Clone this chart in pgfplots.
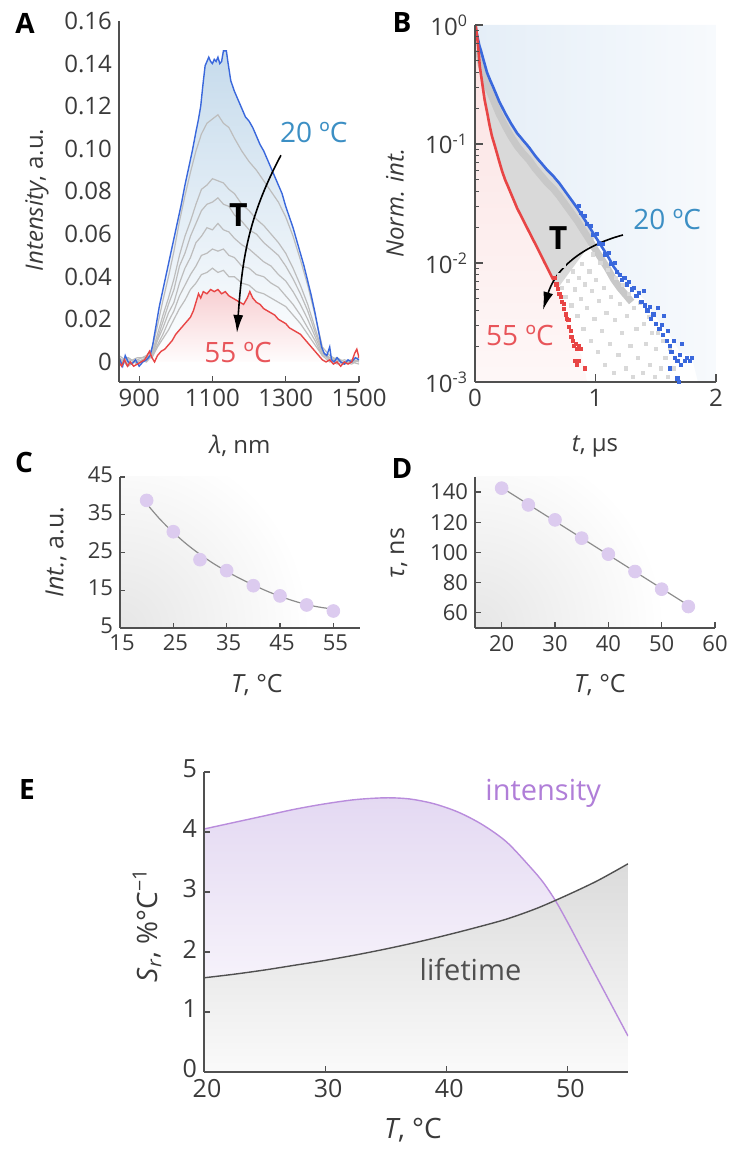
\documentclass[border=0pt]{standalone}
\usepackage{fontspec}
\setmainfont{Open Sans}
\usepackage{pgfplots}
\pgfplotsset{compat=1.18}
\usepackage{pgfplotstable}
\usetikzlibrary{arrows.meta}

\definecolor{AxisGray}{HTML}{505050}
\definecolor{TickGray}{HTML}{3A3A3A}
\definecolor{BlueLine}{HTML}{3A68DC}
\definecolor{RedLine}{HTML}{E84545}
\definecolor{GrayLine}{HTML}{BDBDBD}
\definecolor{BlueLabel}{HTML}{3C8FC4}
\definecolor{RedLabel}{HTML}{E8555A}
\definecolor{BlueFill}{HTML}{C6DBEC}
\definecolor{PinkFill}{HTML}{F8CFD2}
\definecolor{BlueBg}{HTML}{E0EBF6}
\definecolor{PinkBg}{HTML}{FBE1E1}
\definecolor{BandLight}{HTML}{D9D9D9}
\definecolor{BandDark}{HTML}{C8C8C8}
\definecolor{Lav}{HTML}{DCCBEF}
\definecolor{FitGray}{HTML}{8C8C8C}
\definecolor{PurpleLine}{HTML}{B98CDC}
\definecolor{PurpleText}{HTML}{B07ED8}
\definecolor{PurpleFill}{HTML}{E4D9F2}
\definecolor{LifeLine}{HTML}{505050}
\definecolor{BgGray}{HTML}{E6E6E6}

\newcommand{\fs}[1]{\fontsize{#1}{#1}\selectfont}

\pgfplotsset{
  panel/.style={
    scale only axis, anchor=south west,
    axis lines=left,
    axis line style={-, draw=AxisGray, line width=0.9pt},
    x axis line style={-}, y axis line style={-},
    tick align=inside,
    major tick length=3pt, minor tick length=1.8pt,
    every tick/.style={AxisGray, line width=0.6pt},
    tick label style={text=TickGray},
    /pgf/number format/assume math mode=true,
    /pgf/number format/1000 sep={},
    axis on top,
  },
}

% panel A spectra
\pgfplotstableread{
lam g1 g2 g3 g4 g5 g6
845 0.002 -0.001 0.003 0.000 0.002 -0.001
870 -0.001 0.002 0.000 0.002 -0.002 0.001
895 0.001 -0.001 0.002 -0.001 0.001 0.000
920 0.003 0.001 0.002 0.002 0.000 0.002
935 0.006 0.004 0.004 0.003 0.003 0.002
950 0.017 0.013 0.011 0.010 0.008 0.007
965 0.029 0.022 0.019 0.016 0.013 0.011
980 0.040 0.030 0.027 0.023 0.019 0.015
995 0.052 0.039 0.034 0.028 0.024 0.020
1010 0.066 0.050 0.045 0.037 0.031 0.025
1025 0.078 0.059 0.051 0.044 0.036 0.029
1040 0.089 0.066 0.059 0.049 0.041 0.034
1055 0.099 0.074 0.065 0.056 0.045 0.037
1070 0.107 0.081 0.071 0.059 0.050 0.041
1085 0.112 0.083 0.074 0.063 0.051 0.042
1100 0.114 0.086 0.075 0.062 0.053 0.044
1115 0.116 0.085 0.077 0.065 0.052 0.042
1130 0.112 0.084 0.074 0.062 0.053 0.043
1145 0.110 0.081 0.073 0.061 0.050 0.040
1160 0.105 0.079 0.069 0.058 0.049 0.040
1180 0.099 0.074 0.066 0.055 0.045 0.037
1200 0.094 0.071 0.062 0.053 0.044 0.036
1220 0.090 0.067 0.060 0.050 0.041 0.033
1240 0.085 0.064 0.056 0.047 0.040 0.032
1260 0.080 0.060 0.053 0.045 0.037 0.030
1280 0.075 0.056 0.050 0.041 0.035 0.028
1300 0.068 0.051 0.045 0.038 0.031 0.026
1320 0.059 0.044 0.039 0.033 0.027 0.022
1340 0.048 0.036 0.032 0.027 0.022 0.018
1360 0.036 0.027 0.024 0.020 0.016 0.013
1380 0.022 0.016 0.014 0.012 0.010 0.008
1400 0.007 0.005 0.005 0.004 0.003 0.003
1420 0.003 0.001 0.002 0.001 0.002 0.000
1440 0.001 0.002 0.000 0.001 -0.001 0.001
1460 -0.001 0.000 0.001 -0.001 0.000 -0.001
1480 0.001 -0.001 0.000 0.001 0.001 0.000
1500 0.002 0.001 -0.001 0.000 0.002 0.001
}\grayA

\pgfplotstableread{
lam v
845 0.002
855 -0.002
862 0.003
870 0.000
880 -0.001
890 0.001
900 -0.002
910 0.000
920 0.001
930 0.003
937 0.008
945 0.016
955 0.026
965 0.034
975 0.042
985 0.050
995 0.058
1005 0.066
1015 0.074
1025 0.083
1035 0.091
1045 0.099
1055 0.108
1062 0.114
1068 0.120
1074 0.130
1080 0.139
1085 0.141
1090 0.143
1095 0.141
1100 0.140
1105 0.142
1110 0.141
1115 0.143
1120 0.140
1125 0.141
1130 0.146
1138 0.146
1142 0.141
1150 0.132
1160 0.127
1170 0.123
1180 0.119
1190 0.115
1200 0.113
1210 0.110
1220 0.106
1230 0.102
1240 0.099
1250 0.095
1260 0.091
1270 0.087
1280 0.083
1290 0.079
1300 0.073
1310 0.068
1320 0.063
1330 0.057
1340 0.051
1350 0.045
1360 0.038
1370 0.031
1380 0.023
1390 0.014
1398 0.007
1405 0.004
1412 0.003
1420 0.007
1425 0.001
1432 0.000
1440 0.002
1450 0.000
1460 -0.001
1470 0.001
1480 0.000
1490 0.002
1500 0.001
}\blueA

\pgfplotstableread{
lam v
845 0.000
852 -0.002
860 0.001
868 -0.002
876 0.000
885 -0.002
895 -0.001
905 0.000
915 0.001
922 0.003
928 0.005
935 0.002
942 0.000
950 0.003
960 0.005
970 0.006
980 0.008
990 0.010
1000 0.013
1010 0.015
1020 0.017
1030 0.019
1040 0.021
1048 0.024
1055 0.028
1062 0.032
1068 0.030
1075 0.033
1085 0.032
1095 0.034
1105 0.033
1115 0.034
1125 0.032
1135 0.033
1145 0.031
1155 0.030
1165 0.029
1175 0.028
1185 0.027
1195 0.030
1202 0.033
1210 0.030
1220 0.028
1230 0.027
1240 0.025
1250 0.024
1260 0.023
1270 0.022
1280 0.020
1290 0.019
1300 0.018
1310 0.016
1320 0.015
1330 0.014
1340 0.013
1350 0.011
1360 0.009
1370 0.007
1380 0.005
1390 0.003
1400 0.001
1410 0.000
1420 0.001
1430 -0.001
1440 0.000
1450 -0.002
1460 0.000
1470 -0.001
1480 0.000
1488 0.004
1494 0.006
1500 0.002
}\redA

\begin{document}
\begin{tikzpicture}
\useasboundingbox (0,0) rectangle (366pt,574.5pt);

% ---------------- A ----------------
\begin{axis}[panel, at={(59.5pt,383.5pt)}, width=120pt, height=180.5pt,
  xmin=845, xmax=1500, ymin=-0.0094, ymax=0.16,
  xtick={900,1100,1300,1500},
  ytick={0,0.02,0.04,0.06,0.08,0.10,0.12,0.14,0.16},
  yticklabels={0,0.02,0.04,0.06,0.08,0.10,0.12,0.14,0.16},
  ytick style={draw=none},
  tick label style={font=\fs{12}}]
  \addplot[draw=none, top color=BlueFill, middle color=white, bottom color=white] table[x=lam,y=v]{\blueA} \closedcycle;
  \addplot[draw=none, top color=PinkFill, bottom color=white] table[x=lam,y=v]{\redA} \closedcycle;
  \addplot[GrayLine, line width=0.6pt] table[x=lam,y=g6]{\grayA};
  \addplot[GrayLine, line width=0.6pt] table[x=lam,y=g5]{\grayA};
  \addplot[GrayLine, line width=0.6pt] table[x=lam,y=g4]{\grayA};
  \addplot[GrayLine, line width=0.6pt] table[x=lam,y=g3]{\grayA};
  \addplot[GrayLine, line width=0.6pt] table[x=lam,y=g2]{\grayA};
  \addplot[GrayLine, line width=0.6pt] table[x=lam,y=g1]{\grayA};
  \addplot[BlueLine, line width=0.7pt] table[x=lam,y=v]{\blueA};
  \addplot[RedLine, line width=0.7pt] table[x=lam,y=v]{\redA};
  \node[text=BlueLabel, font=\fs{14}] at (axis cs:1377,0.1077) {20 ºC};
  \node[font=\bfseries\fs{16}] at (axis cs:1171,0.069) {T};
  \node[text=RedLabel, font=\fs{14}] at (axis cs:1170,0.0045) {55 ºC};
  \draw[-{Latex[length=9pt,width=5pt]}, line width=0.8pt] (axis cs:1287,0.097) to[out=-118,in=86] (axis cs:1167,0.0136);
\end{axis}

% ---------------- B ----------------
\begin{axis}[panel, at={(237.5pt,383.5pt)}, width=120.5pt, height=178.5pt,
  ymode=log, xmin=0, xmax=2, ymin=0.001, ymax=1,
  xtick={0,1,2},
  ytick={0.001,0.01,0.1,1},
  yticklabels={10\textsuperscript{-3},10\textsuperscript{-2},10\textsuperscript{-1},10\textsuperscript{0}},
  major tick length=4pt, minor tick length=2pt,
  tick label style={font=\fs{12}}]
  % blue background region (above the 20 C decay)
  \addplot[draw=none, left color=BlueBg!85, right color=BlueBg!25] coordinates {
    (0,1)(0.005,0.95)(0.02,0.80)(0.035,0.68)(0.05,0.603)(0.075,0.49)(0.10,0.398)(0.15,0.302)(0.20,0.229)(0.25,0.182)(0.30,0.148)(0.35,0.123)(0.40,0.107)(0.45,0.0933)(0.50,0.0794)(0.55,0.0692)(0.60,0.0603)(0.65,0.0537)(0.70,0.0468)(0.75,0.0398)(0.80,0.0339)(0.85,0.0288)(0.90,0.0240)(0.95,0.0200)(1.00,0.0166)(1.05,0.0138)(1.10,0.0115)(1.15,0.00933)(1.20,0.00794)(1.30,0.0062)(1.40,0.0050)(1.50,0.0035)(1.60,0.0026)(1.70,0.0018)(1.80,0.0016)(1.85,0.001)(2,0.001)(2,1)
  } -- cycle;
  % pink background region (below the 55 C decay)
  \addplot[draw=none, top color=PinkBg, bottom color=PinkBg!25] coordinates {
    (0,1)(0.005,1.0)(0.01,0.93)(0.02,0.76)(0.03,0.59)(0.04,0.447)(0.05,0.380)(0.06,0.324)(0.07,0.275)(0.08,0.234)(0.10,0.186)(0.12,0.145)(0.14,0.117)(0.16,0.100)(0.18,0.085)(0.20,0.072)(0.225,0.059)(0.25,0.050)(0.275,0.0437)(0.30,0.0380)(0.325,0.0331)(0.35,0.0288)(0.375,0.0257)(0.40,0.0229)(0.425,0.0204)(0.45,0.0182)(0.475,0.0162)(0.50,0.0145)(0.525,0.0129)(0.55,0.0115)(0.575,0.0102)(0.60,0.0091)(0.625,0.0081)(0.65,0.0072)(0.70,0.0055)(0.76,0.0034)(0.82,0.0020)(0.88,0.0017)(0.91,0.0013)(0.93,0.001)(0,0.001)
  } -- cycle;
  % gray band of intermediate temperatures
  \addplot[draw=none, fill=BandLight] coordinates {
    (0.005,0.95)(0.02,0.80)(0.035,0.68)(0.05,0.603)(0.075,0.49)(0.10,0.398)(0.125,0.345)(0.15,0.302)(0.175,0.263)(0.20,0.229)(0.225,0.204)(0.25,0.182)(0.275,0.164)(0.30,0.148)(0.325,0.135)(0.35,0.123)(0.375,0.115)(0.40,0.107)(0.425,0.100)(0.45,0.0933)(0.475,0.086)(0.50,0.0794)(0.525,0.074)(0.55,0.0692)(0.575,0.0646)(0.60,0.0603)(0.625,0.0569)(0.65,0.0537)(0.675,0.0501)(0.70,0.0468)(0.75,0.0398)(0.80,0.0339)(0.85,0.0288)(0.90,0.0240)(0.95,0.0200)(1.00,0.0166)
    (0.68,0.0060)
    (0.65,0.0072)(0.625,0.0081)(0.60,0.0091)(0.575,0.0102)(0.55,0.0115)(0.525,0.0129)(0.50,0.0145)(0.475,0.0162)(0.45,0.0182)(0.425,0.0204)(0.40,0.0229)(0.375,0.0257)(0.35,0.0288)(0.325,0.0331)(0.30,0.0380)(0.275,0.0437)(0.25,0.050)(0.225,0.059)(0.20,0.072)(0.18,0.085)(0.16,0.100)(0.14,0.117)(0.12,0.145)(0.10,0.186)(0.08,0.234)(0.07,0.275)(0.06,0.324)(0.05,0.380)(0.04,0.447)(0.03,0.59)(0.02,0.76)(0.01,0.93)(0.005,1.0)
  } -- cycle;
  \addplot[BandDark, line width=3.5pt, line join=round] coordinates {
    (0.03,0.62)(0.05,0.47)(0.10,0.31)(0.15,0.236)(0.20,0.179)(0.25,0.142)(0.30,0.115)(0.35,0.096)(0.40,0.083)(0.45,0.073)(0.50,0.062)(0.55,0.054)(0.60,0.047)(0.65,0.042)(0.70,0.0365)(0.75,0.031)(0.80,0.0264)(0.85,0.0225)(0.90,0.0187)(0.95,0.0156)(1.00,0.0129)(1.05,0.0108)(1.10,0.0090)(1.15,0.0073)(1.20,0.0062)(1.25,0.0054)(1.30,0.0047)
  };
  \addplot[only marks, mark=square*, mark size=0.8pt, color=BandLight] coordinates {
    (0.70,0.0080)(0.72,0.0062)(0.74,0.0095)(0.75,0.0052)(0.77,0.0071)(0.78,0.0110)(0.80,0.0044)(0.81,0.0085)(0.83,0.0060)(0.84,0.0125)(0.85,0.0036)(0.86,0.0075)(0.88,0.0050)(0.89,0.0098)(0.90,0.0028)(0.91,0.0066)(0.92,0.0140)(0.93,0.0042)(0.95,0.0085)(0.96,0.0022)(0.97,0.0058)(0.98,0.0118)(0.99,0.0034)(1.00,0.0072)(1.02,0.0018)(1.03,0.0048)(1.04,0.0100)(1.05,0.0027)(1.07,0.0062)(1.08,0.0014)(1.09,0.0038)(1.10,0.0088)(1.12,0.0021)(1.13,0.0052)(1.15,0.0012)(1.16,0.0033)(1.17,0.0075)(1.19,0.0017)(1.20,0.0045)(1.22,0.0026)(1.23,0.0065)(1.25,0.0013)(1.26,0.0036)(1.28,0.0055)(1.29,0.0020)(1.31,0.0011)(1.32,0.0042)(1.34,0.0028)(1.35,0.0016)(1.37,0.0046)(1.39,0.0012)(1.40,0.0031)(1.42,0.0021)(1.44,0.0035)(1.45,0.0014)(1.47,0.0026)(1.49,0.0011)(1.50,0.0019)(1.52,0.0026)(1.54,0.0013)(1.56,0.0022)(1.58,0.0016)(1.60,0.0011)(1.62,0.0019)(1.65,0.0013)
  };
  % 20 C decay
  \addplot[BlueLine, line width=1.3pt] coordinates {
    (0.005,0.95)(0.02,0.80)(0.035,0.68)(0.05,0.603)(0.075,0.49)(0.10,0.398)(0.125,0.345)(0.15,0.302)(0.175,0.263)(0.20,0.229)(0.225,0.204)(0.25,0.182)(0.275,0.164)(0.30,0.148)(0.325,0.135)(0.35,0.123)(0.375,0.115)(0.40,0.107)(0.425,0.100)(0.45,0.0933)(0.475,0.086)(0.50,0.0794)(0.525,0.074)(0.55,0.0692)(0.575,0.0646)(0.60,0.0603)(0.625,0.0569)(0.65,0.0537)(0.675,0.0501)(0.70,0.0468)(0.75,0.0398)(0.80,0.0339)(0.85,0.0288)(0.90,0.0240)(0.95,0.0200)(1.00,0.0166)(1.05,0.0138)(1.10,0.0115)(1.15,0.00933)(1.20,0.00794)
  };
  \addplot[only marks, mark=square*, mark size=0.8pt, color=BlueLine] coordinates {
    (0.86,0.0300)(0.88,0.0262)(0.91,0.0250)(0.93,0.0213)(0.96,0.0205)(0.98,0.0172)(1.01,0.0175)(1.03,0.0146)(1.06,0.0145)(1.08,0.0118)(1.11,0.0121)(1.13,0.0098)(1.16,0.0100)(1.18,0.0084)
    (1.20,0.0080)(1.22,0.0072)(1.24,0.0075)(1.26,0.0066)(1.28,0.0069)(1.30,0.0060)(1.32,0.0062)(1.34,0.0053)(1.36,0.0056)(1.38,0.0047)(1.40,0.0058)(1.41,0.0044)(1.43,0.0040)(1.45,0.0043)(1.46,0.0034)(1.48,0.0037)(1.50,0.0031)(1.52,0.0042)(1.53,0.0028)(1.55,0.0030)(1.56,0.0025)(1.57,0.0036)(1.59,0.0022)(1.60,0.0027)(1.62,0.0020)(1.63,0.0018)(1.65,0.0022)(1.66,0.0016)(1.68,0.0015)(1.70,0.0017)(1.71,0.0014)(1.72,0.0021)(1.74,0.0015)(1.76,0.0016)(1.78,0.0015)(1.80,0.0016)(1.62,0.0013)(1.68,0.00107)(1.69,0.0010)
  };
  % 55 C decay
  \addplot[RedLine, line width=1.3pt] coordinates {
    (0.005,1.0)(0.01,0.93)(0.02,0.76)(0.03,0.59)(0.04,0.447)(0.05,0.380)(0.06,0.324)(0.07,0.275)(0.08,0.234)(0.10,0.186)(0.12,0.145)(0.14,0.117)(0.16,0.100)(0.18,0.085)(0.20,0.072)(0.225,0.059)(0.25,0.050)(0.275,0.0437)(0.30,0.0380)(0.325,0.0331)(0.35,0.0288)(0.375,0.0257)(0.40,0.0229)(0.425,0.0204)(0.45,0.0182)(0.475,0.0162)(0.50,0.0145)(0.525,0.0129)(0.55,0.0115)(0.575,0.0102)(0.60,0.0091)(0.625,0.0081)(0.65,0.0072)
  };
  \addplot[only marks, mark=square*, mark size=0.8pt, color=RedLine] coordinates {
    (0.66,0.0075)(0.675,0.0066)(0.69,0.0061)(0.70,0.0055)(0.715,0.0052)(0.72,0.0047)(0.735,0.0045)(0.74,0.0041)(0.755,0.0037)(0.76,0.0034)(0.775,0.0033)(0.78,0.0029)(0.795,0.0027)(0.80,0.0024)(0.815,0.0022)(0.82,0.0020)(0.835,0.0021)(0.85,0.0019)(0.865,0.0020)(0.88,0.0019)(0.83,0.0015)(0.845,0.0014)(0.86,0.0015)(0.91,0.0013)
  };
  \node[text=BlueLabel, font=\fs{14}] at (axis cs:1.595,0.0234) {20 ºC};
  \node[font=\bfseries\fs{16}] at (axis cs:0.69,0.0162) {T};
  \node[text=RedLabel, font=\fs{14}] at (axis cs:0.373,0.00245) {55 ºC};
  \draw[-{Latex[length=9pt,width=5pt]}, line width=0.8pt] (axis cs:1.228,0.0172) to[out=195,in=73] (axis cs:0.564,0.00403);
\end{axis}

% ---------------- C ----------------
\begin{axis}[panel, at={(60pt,260.5pt)}, width=120pt, height=75.5pt,
  xmin=15, xmax=60, ymin=5, ymax=45,
  xtick={15,25,35,45,55}, ytick={5,15,25,35,45},
  major tick length=2.5pt,
  tick label style={font=\fs{11}},
  yticklabel style={yshift=1pt},
  xticklabel style={xshift=1pt}]
  \shade[inner color=BgGray, outer color=white] (axis cs:15,5) circle[radius=95pt];
  \addplot[only marks, mark=*, mark size=3.2pt, color=Lav, mark options={draw=Lav, fill=Lav}] coordinates {
    (20,38.8)(25,30.5)(30,23.1)(35,20.2)(40,16.2)(45,13.5)(50,11.1)(55,9.5)
  };
  \addplot[FitGray, line width=0.6pt, smooth] coordinates {
    (20,37.9)(22.5,33.8)(25,30.3)(27.5,27.2)(30,24.5)(32.5,22.1)(35,20.0)(37.5,18.1)(40,16.4)(42.5,14.8)(45,13.4)(47.5,12.2)(50,11.2)(52.5,10.5)(55,10.0)
  };
\end{axis}

% ---------------- D ----------------
\begin{axis}[panel, at={(237.5pt,260.5pt)}, width=120pt, height=75.5pt,
  xmin=15, xmax=60, ymin=50, ymax=150,
  xtick={20,30,40,50,60}, ytick={60,80,100,120,140},
  tick label style={font=\fs{11}}]
  \shade[inner color=BgGray, outer color=white] (axis cs:15,50) circle[radius=95pt];
  \addplot[only marks, mark=*, mark size=3.2pt, color=Lav, mark options={draw=Lav, fill=Lav}] coordinates {
    (20,142.6)(25,131.5)(30,121.6)(35,109.5)(40,98.9)(45,87.4)(50,75.7)(55,64.2)
  };
  \addplot[FitGray, line width=0.6pt] coordinates {(20,143)(55,65)};
\end{axis}

% ---------------- E ----------------
\begin{axis}[panel, at={(102pt,38.5pt)}, width=212pt, height=150pt,
  xmin=20, xmax=55, ymin=0, ymax=5,
  xtick={20,30,40,50}, ytick={0,1,2,3,4,5},
  tick label style={font=\fs{12.5}},
  yticklabel style={yshift=1.5pt},
  xticklabel style={xshift=1.5pt}]
  \addplot[draw=none, smooth, top color=PurpleFill, bottom color=white] coordinates {
    (20,4.05)(22.5,4.16)(25,4.27)(27.5,4.38)(30,4.47)(32.5,4.54)(35,4.57)(37,4.55)(39,4.47)(41,4.33)(43,4.12)(45,3.83)(47,3.40)(48,3.16)(49,2.86)(50,2.50)(51,2.12)(52,1.74)(53,1.36)(54,0.98)(55,0.60)
  } \closedcycle;
  \addplot[draw=none, smooth, top color=black!14, bottom color=black!2] coordinates {
    (20,1.57)(22.5,1.63)(25,1.70)(27.5,1.78)(30,1.86)(32.5,1.95)(35,2.05)(37.5,2.16)(40,2.28)(42.5,2.41)(45,2.55)(47.5,2.73)(50,2.95)(52.5,3.19)(55,3.47)
  } \closedcycle;
  \addplot[PurpleLine, line width=0.7pt, smooth] coordinates {
    (20,4.05)(22.5,4.16)(25,4.27)(27.5,4.38)(30,4.47)(32.5,4.54)(35,4.57)(37,4.55)(39,4.47)(41,4.33)(43,4.12)(45,3.83)(47,3.40)(48,3.16)(49,2.86)(50,2.50)(51,2.12)(52,1.74)(53,1.36)(54,0.98)(55,0.60)
  };
  \addplot[LifeLine, line width=0.7pt, smooth] coordinates {
    (20,1.57)(22.5,1.63)(25,1.70)(27.5,1.78)(30,1.86)(32.5,1.95)(35,2.05)(37.5,2.16)(40,2.28)(42.5,2.41)(45,2.55)(47.5,2.73)(50,2.95)(52.5,3.19)(55,3.47)
  };
  \node[text=PurpleText, font=\fs{14.5}] at (axis cs:48,4.65) {intensity};
  \node[text=LifeLine, font=\fs{14.5}] at (axis cs:42,1.70) {lifetime};
\end{axis}

% panel letters
\node[font=\bfseries\fs{14}] at (12.5pt,563pt) {A};
\node[font=\bfseries\fs{14}] at (201pt,563pt) {B};
\node[font=\bfseries\fs{14}] at (12pt,343pt) {C};
\node[font=\bfseries\fs{14}] at (201pt,340pt) {D};
\node[font=\bfseries\fs{14}] at (13.5pt,179.5pt) {E};

% axis labels
\node[rotate=90, font=\fs{12}, text=TickGray] at (18.5pt,474.5pt) {\textit{Intensity}, a.u.};
\node[font=\fs{12}, text=TickGray] at (120pt,351.5pt) {\textit{λ}, nm};
\node[rotate=90, font=\fs{12}, text=TickGray] at (197.5pt,473pt) {\textit{Norm. int.}};
\node[font=\fs{12}, text=TickGray] at (297.5pt,351.5pt) {\textit{t}, µs};
\node[rotate=90, font=\fs{12.5}, text=TickGray] at (28pt,298.5pt) {\textit{Int.}, a.u.};
\node[font=\fs{12.5}, text=TickGray] at (128.5pt,232pt) {\textit{T}, °C};
\node[rotate=90, font=\fs{12.5}, text=TickGray] at (199.5pt,298pt) {\textit{τ}, ns};
\node[font=\fs{12.5}, text=TickGray] at (300pt,232pt) {\textit{T}, °C};
\node[rotate=90, font=\fs{14}, text=TickGray] at (73.5pt,112pt) {\textit{S}\textsubscript{\textit{r}}, \%°C\textsuperscript{−1}};
\node[font=\fs{14}, text=TickGray] at (206.5pt,9.5pt) {\textit{T}, °C};
\end{tikzpicture}
\end{document}
